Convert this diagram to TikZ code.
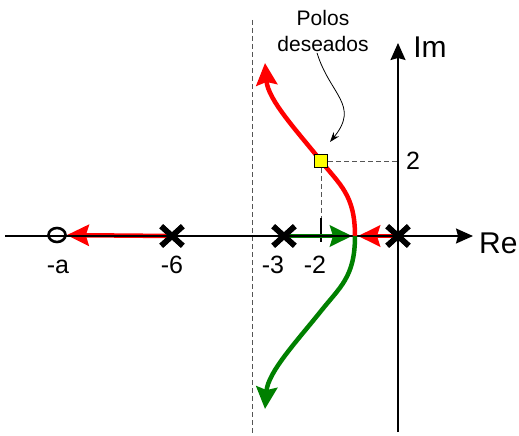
\documentclass[tikz,border=0pt]{standalone}
\usepackage{fontspec}
\setmainfont{Liberation Sans}
\usetikzlibrary{arrows.meta,positioning,shapes.misc,shapes.geometric}
\definecolor{locRed}{HTML}{FF0000}
\definecolor{locGreen}{HTML}{008000}
\definecolor{poleYellow}{HTML}{FFFF00}
\definecolor{guideGray}{HTML}{555555}

\begin{document}
\begin{tikzpicture}[
    x=1pt, y=-1pt,
    axis/.style={line width=1.6pt, -{Stealth[length=17pt,width=15pt,inset=2pt]}},
    guide/.style={guideGray, line width=0.9pt, dash pattern=on 5pt off 3pt},
    pole/.style={cross out, draw, line width=5.5pt, minimum width=16pt, minimum height=14pt, inner sep=0pt},
    zero/.style={ellipse, draw, line width=2.6pt, minimum width=17pt, minimum height=14pt, inner sep=0pt},
    branch/.style={line width=4.5pt, -{Stealth[length=22pt,width=21pt,inset=3pt]}},
    pointer/.style={line width=0.8pt, -{Stealth[length=10pt,width=7pt]}},
    lbl/.style={font=\fontsize{25}{28}\selectfont, inner sep=1pt, anchor=base},
    axlbl/.style={font=\fontsize{30}{33}\selectfont, inner sep=1pt}
]
    \useasboundingbox (0,0) rectangle (519,436);

    % Reference points
    \coordinate (brk) at (355,236);
    \coordinate (grn_mid) at (321,311);
    \coordinate (red_end) at (265,63);
    \coordinate (grn_end) at (265,409);
    \coordinate (re_start) at (5,236);
    \coordinate (re_tip) at (473,236);
    \coordinate (im_start) at (398,432);
    \coordinate (im_tip) at (398,43);
    \coordinate (im_two) at (398,161);
    \coordinate (tick_top) at (321,218);
    \coordinate (tick_bot) at (321,242);

    % Desired pole and guide lines
    \node[draw, fill=poleYellow, line width=1pt, minimum size=13pt, inner sep=0pt] (sq) at (321,161) {};
    \draw[guide] (252,20) -- (252,436);
    \draw[guide] (sq.east) -- (im_two);
    \draw[guide] (sq.south) -- (tick_top);
    \draw[line width=1.4pt] (tick_top) -- (tick_bot);

    % Poles and zero
    \node[pole] (p_0) at (398,236) {};
    \node[pole] (p_3) at (284,236) {};
    \node[pole] (p_6) at (172,236) {};
    \node[zero] (z_a) at (57,235) {};

    % Loci on the real axis
    \draw[branch, locRed] (p_6.center) -- (z_a);
    \draw[branch, locGreen, shorten >=3pt] (p_3.center) -- (brk);
    \draw[branch, locRed, shorten >=3pt] (p_0.center) -- (brk);

    % Axes
    \draw[axis] (re_start) -- (re_tip);
    \draw[axis] (im_start) -- (im_tip);
    \node[axlbl, anchor=west] (re_lbl) at (478,243) {Re};
    \node[axlbl] (im_lbl) at (430,47) {Im};

    % Complex branches
    \draw[branch, locRed] (brk) .. controls (355,195) and (340,185) .. (sq.center)
        .. controls (297,131) and (268,100) .. (red_end);
    \draw[branch, locGreen] (brk) .. controls (355,277) and (340,287) .. (grn_mid)
        .. controls (297,341) and (268,372) .. (grn_end);

    % Marks drawn again on top
    \node[pole] at (p_0) {};
    \node[pole] at (p_3) {};
    \node[pole] at (p_6) {};
    \node[draw, fill=poleYellow, line width=1pt, minimum size=13pt, inner sep=0pt] at (sq) {};

    % Labels
    \node[lbl] (l_a) at (58,273) {-a};
    \node[lbl] (l_6) at (172,273) {-6};
    \node[lbl] (l_3) at (273,273) {-3};
    \node[lbl] (l_2) at (315,273) {-2};
    \node[font=\fontsize{25}{28}\selectfont, anchor=west, inner sep=1pt] (l_two) at (405,161) {2};

    % Annotation
    \node[font=\fontsize{21}{26}\selectfont, align=center, inner sep=1pt] (pd_lbl) at (323,31) {Polos\\deseados};
    \draw[pointer] ([xshift=-6pt]pd_lbl.south) .. controls (330,95) and (360,105) .. ([shift={(2pt,12pt)}]sq.north east);
\end{tikzpicture}
\end{document}
